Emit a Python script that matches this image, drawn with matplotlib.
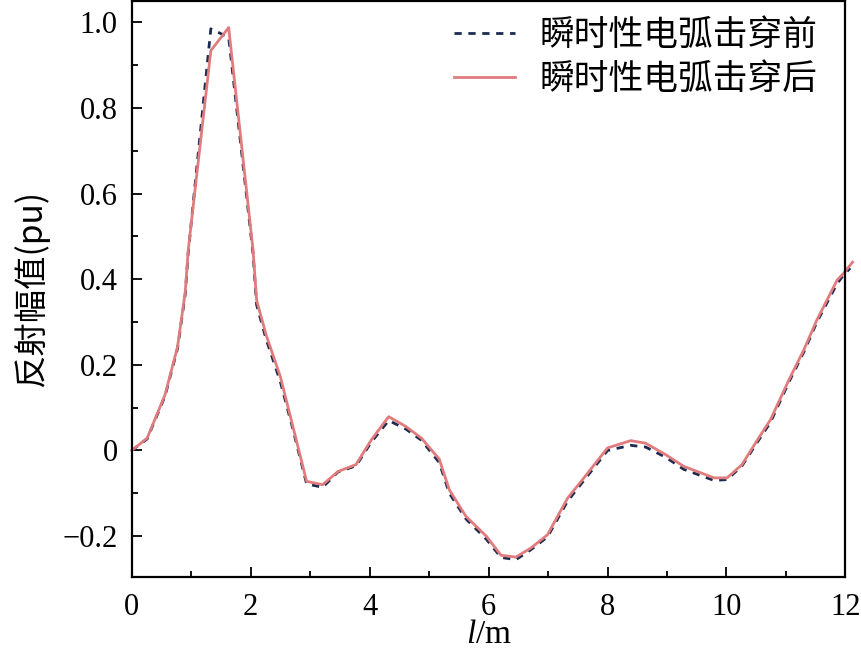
import matplotlib
matplotlib.use("Agg")
import matplotlib.pyplot as plt
from matplotlib.ticker import MultipleLocator, FuncFormatter

# distance (m) and reflection amplitude (pu)
x_after = [0.00, 0.26, 0.56, 0.77, 0.90, 0.95, 1.33, 1.63, 2.04, 2.10, 2.26, 2.50,
           2.71, 2.94, 3.21, 3.47, 3.77, 4.03, 4.32, 4.61, 4.87, 5.17, 5.34, 5.62,
           5.96, 6.21, 6.46, 6.71, 6.99, 7.33, 7.58, 8.00, 8.39, 8.64, 8.98, 9.28,
           9.79, 10.01, 10.26, 10.54, 10.74, 11.05, 11.30, 11.52, 11.86, 11.97, 12.12]
y_after = [0.000, 0.029, 0.130, 0.242, 0.370, 0.468, 0.934, 0.988, 0.468, 0.351, 0.270, 0.172,
           0.056, -0.072, -0.080, -0.049, -0.033, 0.025, 0.079, 0.056, 0.029, -0.020, -0.092, -0.154,
           -0.200, -0.245, -0.249, -0.228, -0.197, -0.111, -0.068, 0.006, 0.023, 0.017, -0.010, -0.037,
           -0.064, -0.064, -0.033, 0.029, 0.072, 0.165, 0.235, 0.305, 0.398, 0.414, 0.440]

x_before = [0.00, 0.26, 0.56, 0.77, 0.90, 0.95, 1.33, 1.63, 2.04, 2.10, 2.26, 2.50,
            2.71, 2.94, 3.21, 3.47, 3.77, 4.03, 4.32, 4.61, 4.87, 5.17, 5.34, 5.62,
            5.96, 6.21, 6.46, 6.71, 6.99, 7.33, 7.58, 8.00, 8.39, 8.64, 8.98, 9.28,
            9.79, 10.01, 10.26, 10.54, 10.74, 11.05, 11.30, 11.52, 11.86, 11.97, 12.08]
y_before = [0.000, 0.027, 0.127, 0.238, 0.365, 0.462, 0.985, 0.965, 0.460, 0.340, 0.260, 0.160,
            0.050, -0.078, -0.086, -0.050, -0.036, 0.020, 0.070, 0.050, 0.024, -0.028, -0.100, -0.160,
            -0.207, -0.250, -0.255, -0.232, -0.202, -0.118, -0.074, 0.000, 0.012, 0.008, -0.016, -0.044,
            -0.070, -0.068, -0.036, 0.024, 0.066, 0.160, 0.230, 0.300, 0.390, 0.410, 0.426]

labels = ["瞬时性电弧击穿前", "瞬时性电弧击穿后"]

plt.rcParams['font.family'] = ['Liberation Serif', 'Noto Sans CJK SC']
plt.rcParams['mathtext.fontset'] = 'custom'
plt.rcParams['mathtext.it'] = 'Liberation Serif:italic'
plt.rcParams['mathtext.rm'] = 'Liberation Serif'


def yfmt(v, p):
    if abs(v) < 1e-9:
        return '0'
    return ('%.1f' % v).replace('-', '\u2212')


fig = plt.figure(figsize=(8.62, 6.66), dpi=100)
ax = fig.add_axes([0.1528, 0.134, 0.828, 0.8645])

ax.plot(x_before, y_before, color='#1b2a4e', lw=2.0, ls=(0, (2.6, 2.4)),
        label=labels[0], clip_on=False)
ax.plot(x_after, y_after, color='#e07b7e', lw=2.0, label=labels[1], clip_on=False)

ax.set_xlim(0, 12)
ax.set_ylim(-0.295, 1.05)

ax.xaxis.set_major_locator(MultipleLocator(2))
ax.xaxis.set_minor_locator(MultipleLocator(1))
ax.yaxis.set_major_locator(MultipleLocator(0.2))
ax.yaxis.set_minor_locator(MultipleLocator(0.1))
ax.yaxis.set_major_formatter(FuncFormatter(yfmt))

ax.tick_params(which='both', direction='in', top=False, right=False, labelsize=22, width=1.3)
ax.tick_params(which='major', length=7, pad=10)
ax.tick_params(axis='x', which='major', pad=12)
ax.tick_params(which='minor', length=4.5)
for s in ax.spines.values():
    s.set_linewidth(1.6)

ax.set_xlabel('$l$/m', fontsize=24, labelpad=-2)
ax.set_ylabel('反射幅值(pu)', fontsize=24, family=['Noto Sans CJK SC', 'Liberation Serif'],
              labelpad=10)

ax.legend(loc='upper right', frameon=False, handlelength=1.75,
          prop={'family': ['Noto Sans CJK SC'], 'size': 25},
          borderaxespad=0.1, labelspacing=0.25, handletextpad=0.7,
          bbox_to_anchor=(0.985, 1.0))

plt.savefig('out.png', dpi=100)
